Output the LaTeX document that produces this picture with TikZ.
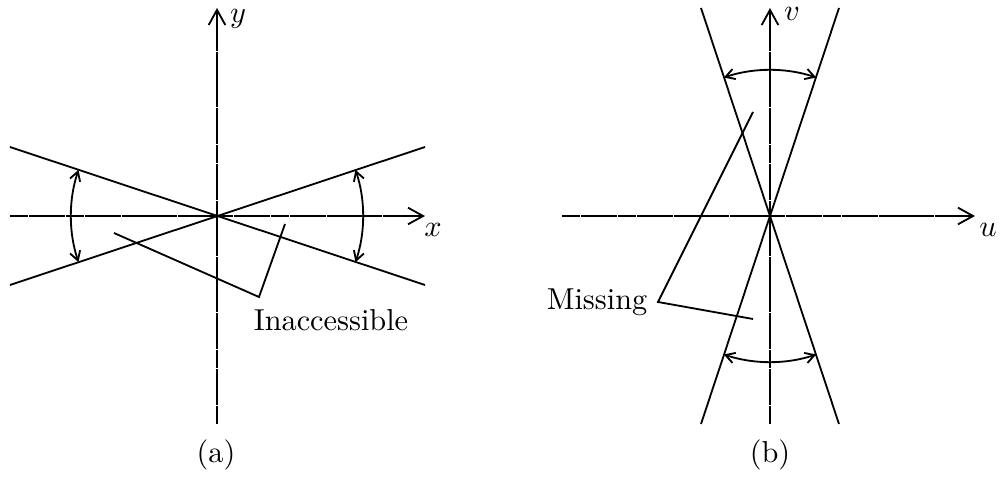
\documentclass[tikz,border=0pt]{standalone}
\usepackage{amsmath, amssymb}
\usepackage{tikz}
\usetikzlibrary{arrows.meta}

\tikzset{
    axis/.style={line width=0.6pt, dash pattern=on 6pt off 0.15pt, -{Straight Barb[length=5pt,width=5.5pt]}},
    ray/.style={line width=0.6pt},
    angarc/.style={line width=0.6pt, {Straight Barb[length=3pt,width=3.5pt]}-{Straight Barb[length=3pt,width=3.5pt]}},
    leader/.style={line width=0.6pt}
}

\begin{document}
\begin{tikzpicture}[x=0.33pt, y=0.33pt]
    \useasboundingbox (-217,-262) rectangle (783,216);
    % (a) the x-y plane
    \draw[axis] (-207,0) -- (208,0);
    \draw[axis] (0,-208) -- (0,208);
    \node (xlab) at (216,-14) {$x$};
    \node (ylab) at (21,197) {$y$};
    \draw[ray] (-207,69) -- (208,-69);
    \draw[ray] (-207,-69) -- (208,69);
    \draw[angarc] (161.57:146) arc (161.57:198.43:146);
    \draw[angarc] (-18.43:146) arc (-18.43:18.43:146);
    \coordinate (ia1) at (-103,-17);
    \coordinate (ic) at (42,-81);
    \coordinate (ia2) at (68,-8);
    \draw[leader] (ia1) -- (ic) -- (ia2);
    \node (inacc) at (114,-104) {Inaccessible};
    \node (capa) at (-1,-239) {(a)};

    % (b) the u-v plane
    \begin{scope}[shift={(553,0)}]
        \draw[axis] (-208,0) -- (205,0);
        \draw[axis] (0,-208) -- (0,208);
        \node (ulab) at (218,-14) {$u$};
        \node (vlab) at (22,202) {$v$};
        \draw[ray] (-69,208) -- (69,-208);
        \draw[ray] (69,208) -- (-69,-208);
        \draw[angarc] (71.57:146) arc (71.57:108.43:146);
        \draw[angarc] (251.57:146) arc (251.57:288.43:146);
        \coordinate (mc) at (-112,-86);
        \coordinate (ma1) at (-17,104);
        \coordinate (ma2) at (-17,-103);
        \draw[leader] (ma1) -- (mc) -- (ma2);
        \node[anchor=east] (miss) at (mc) {Missing};
        \node (capb) at (0,-239) {(b)};
    \end{scope}
\end{tikzpicture}
\end{document}
